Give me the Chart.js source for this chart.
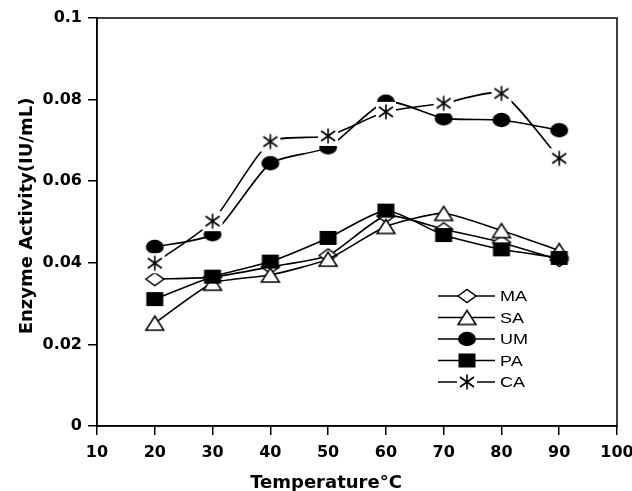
<!DOCTYPE html>
<html>
<head>
<meta charset="utf-8">
<script src="https://cdn.jsdelivr.net/npm/chart.js@4.4.0/dist/chart.umd.min.js"></script>
<style>
html,body{margin:0;padding:0;background:#fff;}
#wrap{width:632px;height:491px;}
</style>
</head>
<body>
<div id="wrap"><canvas id="c" width="632" height="491"></canvas></div>
<script>
// ---- data ----
const temperatures = [20, 30, 40, 50, 60, 70, 80, 90];
const seriesNames = ['MA', 'SA', 'UM', 'PA', 'CA'];
const MA = [0.0360, 0.0365, 0.0390, 0.0418, 0.0515, 0.0482, 0.0450, 0.0407];
const SA = [0.0252, 0.0350, 0.0370, 0.0409, 0.0489, 0.0521, 0.0479, 0.0430];
const UM = [0.0439, 0.0470, 0.0644, 0.0683, 0.0795, 0.0754, 0.0750, 0.0725];
const PA = [0.0311, 0.0366, 0.0403, 0.0461, 0.0528, 0.0468, 0.0433, 0.0412];
const CA = [0.0399, 0.0502, 0.0697, 0.0711, 0.0770, 0.0791, 0.0815, 0.0656];
const xTicks = [10, 20, 30, 40, 50, 60, 70, 80, 90, 100];
const yTicks = [0, 0.02, 0.04, 0.06, 0.08, 0.1];
const xTitle = 'Temperature°C';
const yTitle = 'Enzyme Activity(IU/mL)';

// ---- marker images ----
function marker(kind) {
  const c = document.createElement('canvas');
  c.width = 24; c.height = 22;
  const g = c.getContext('2d');
  const cx = 12, cy = 11;
  g.lineWidth = 1.5; g.strokeStyle = '#000'; g.fillStyle = '#fff';
  g.beginPath();
  if (kind === 'diamond') {
    g.moveTo(cx - 9, cy); g.lineTo(cx, cy - 6.5); g.lineTo(cx + 9, cy); g.lineTo(cx, cy + 6.5); g.closePath();
    g.fill(); g.stroke();
  } else if (kind === 'triangle') {
    g.moveTo(cx - 9, cy + 7); g.lineTo(cx + 9, cy + 7); g.lineTo(cx, cy - 7); g.closePath();
    g.fill(); g.stroke();
  } else if (kind === 'circle') {
    g.fillStyle = '#000';
    g.ellipse(cx, cy, 9, 7.2, 0, 0, Math.PI * 2); g.fill();
  } else if (kind === 'square') {
    g.fillStyle = '#000';
    g.fillRect(cx - 8.5, cy - 7, 17, 14);
  } else if (kind === 'star') {
    g.fillStyle = '#fff';
    g.fillRect(cx - 10, cy - 10, 20, 20);
    g.lineWidth = 1.6;
    g.beginPath();
    g.moveTo(cx, cy - 7.5); g.lineTo(cx, cy + 7.5);
    g.moveTo(cx - 7, cy - 5); g.lineTo(cx + 7, cy + 5);
    g.moveTo(cx - 7, cy + 5); g.lineTo(cx + 7, cy - 5);
    g.stroke();
  }
  return c;
}
const markers = {
  MA: marker('diamond'), SA: marker('triangle'), UM: marker('circle'),
  PA: marker('square'), CA: marker('star')
};
const seriesValues = { MA, SA, UM, PA, CA };
const drawOrder = { MA: 4, SA: 3, UM: 2, PA: 1, CA: 0 };

const datasets = seriesNames.map(n => ({
  label: n,
  data: temperatures.map((t, i) => ({ x: t, y: seriesValues[n][i] })),
  borderColor: '#000',
  backgroundColor: '#000',
  borderWidth: 1.6,
  tension: 0.2,
  pointStyle: markers[n],
  pointRadius: 6,
  order: drawOrder[n]
}));

const FONT = '"DejaVu Sans", sans-serif';

const frame = {
  id: 'frame',
  afterDraw(chart) {
    const a = chart.chartArea, ctx = chart.ctx;
    ctx.save();
    ctx.strokeStyle = '#000'; ctx.lineWidth = 1.5;
    ctx.strokeRect(a.left, a.top, a.right - a.left, a.bottom - a.top);
    // axis titles
    ctx.fillStyle = '#000';
    ctx.font = 'bold 18px ' + FONT;
    ctx.textAlign = 'center';
    ctx.textBaseline = 'alphabetic';
    ctx.fillText(xTitle, 326, 487.5);
    ctx.save();
    ctx.translate(31.5, 216);
    ctx.rotate(-Math.PI / 2);
    ctx.fillText(yTitle, 0, 0);
    ctx.restore();
    // legend
    const rowY0 = 296, step = 21.5;
    seriesNames.forEach((n, i) => {
      const y = rowY0 + i * step;
      ctx.strokeStyle = '#000'; ctx.lineWidth = 1.6;
      ctx.beginPath(); ctx.moveTo(438, y); ctx.lineTo(495, y); ctx.stroke();
      const m = markers[n];
      ctx.drawImage(m, 467 - m.width / 2, y - m.height / 2);
      ctx.save();
      ctx.translate(500, y);
      ctx.scale(1.2, 1);
      ctx.fillStyle = '#000';
      ctx.font = '15px "Liberation Sans", Arial, sans-serif';
      ctx.textBaseline = 'middle';
      ctx.textAlign = 'left';
      ctx.fillText(n, 0, 1);
      ctx.restore();
    });
    ctx.restore();
  }
};

new Chart(document.getElementById('c'), {
  type: 'line',
  data: { datasets },
  options: {
    responsive: false,
    animation: false,
    devicePixelRatio: 1,
    layout: { padding: { top: 18, right: 15, left: 0, bottom: 0 } },
    plugins: { legend: { display: false }, tooltip: { enabled: false } },
    scales: {
      x: {
        type: 'linear', min: xTicks[0], max: xTicks[xTicks.length - 1],
        afterBuildTicks: s => { s.ticks = xTicks.map(v => ({ value: v })); },
        afterFit: s => { s.height = 65; s.paddingLeft = 0; s.paddingRight = 0; },
        grid: { display: true, drawOnChartArea: false, drawTicks: true, tickLength: 9, color: '#000', lineWidth: 1.5 },
        border: { display: true, color: '#000', width: 1.5 },
        ticks: { color: '#000', font: { family: FONT, size: 16, weight: 'bold' }, padding: 8, maxRotation: 0, autoSkip: false },
        title: { display: false }
      },
      y: {
        type: 'linear', min: 0, max: 0.1,
        afterBuildTicks: s => { s.ticks = yTicks.map(v => ({ value: v })); },
        afterFit: s => { s.width = 97; s.paddingTop = 0; s.paddingBottom = 0; },
        grid: { display: true, drawOnChartArea: false, drawTicks: true, tickLength: 9, color: '#000', lineWidth: 1.5 },
        border: { display: true, color: '#000', width: 1.5 },
        ticks: { color: '#000', font: { family: FONT, size: 16, weight: 'bold' }, padding: 6, autoSkip: false,
          callback: v => parseFloat(Number(v).toFixed(2)).toString() },
        title: { display: false }
      }
    }
  },
  plugins: [frame]
});
</script>
</body>
</html>
